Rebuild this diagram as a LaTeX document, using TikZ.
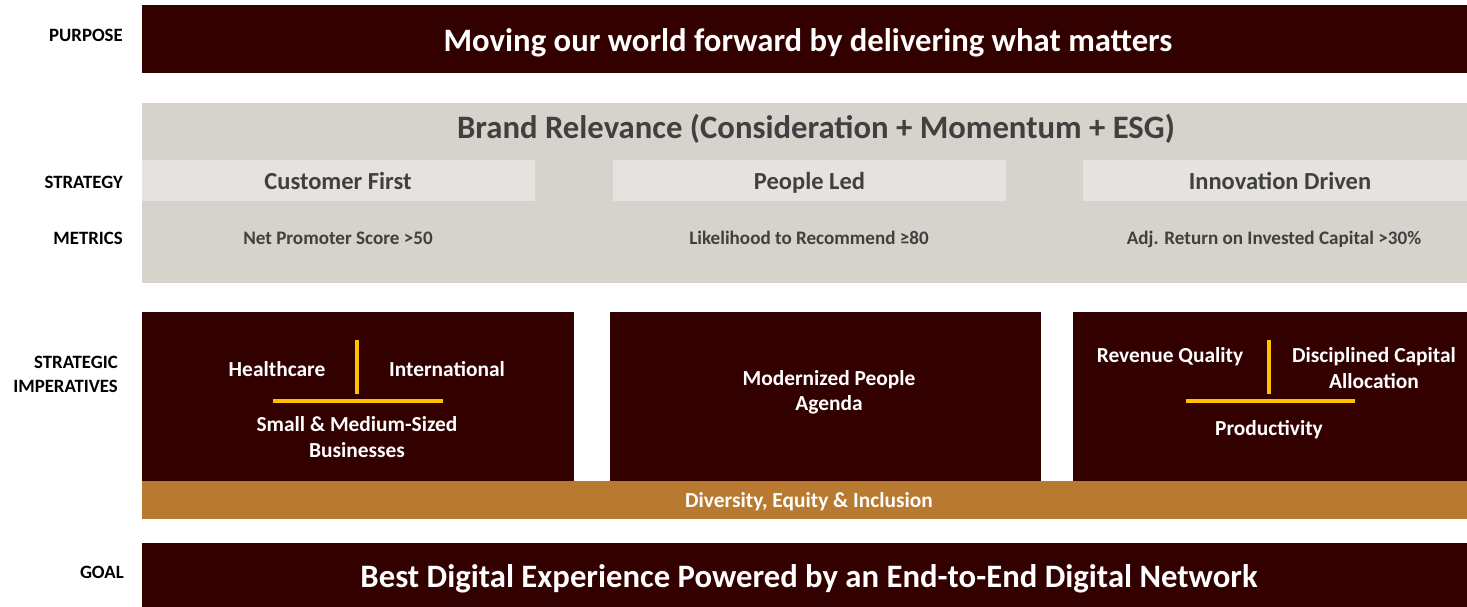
\documentclass[tikz,border=0pt]{standalone}
\usepackage{fontspec}
\setmainfont{Carlito}
\definecolor{maroon}{HTML}{330000}
\definecolor{graybg}{HTML}{D6D2CC}
\definecolor{graystrip}{HTML}{E5E2DF}
\definecolor{graytxt}{HTML}{404040}
\definecolor{ochre}{HTML}{B87A30}
\definecolor{gold}{HTML}{FFC000}
\tikzset{
  bar/.style={fill=#1, draw=none, anchor=north west, inner sep=0pt, outer sep=0pt},
  lbl/.style={font=\fontsize{18.8}{24}\selectfont\bfseries, text=black, anchor=base east, align=right, inner sep=0pt},
  big/.style={font=\fontsize{32.7}{36}\selectfont\bfseries, text=white, anchor=base, inner sep=0pt},
  strat/.style={font=\fontsize{24.5}{28}\selectfont\bfseries, text=graytxt, anchor=base, inner sep=0pt},
  metric/.style={font=\fontsize{19.1}{22}\selectfont\bfseries, text=graytxt, anchor=base, inner sep=0pt},
  imp/.style={font=\fontsize{21.4}{25.5}\selectfont\bfseries, text=white, align=center, anchor=base, inner sep=0pt},
  goldline/.style={draw=gold, line width=4.5pt},
}
\begin{document}
\begin{tikzpicture}[x=1pt,y=-1pt]
\useasboundingbox (0,0) rectangle (1467,606);
% purpose
\node[bar=maroon, minimum width=1325, minimum height=68] (purpose) at (142,5) {};
\node[big] (purposetxt) at (808,51.5) {Moving our world forward by delivering what matters};
\node[lbl] (lpurpose) at (123,41) {PURPOSE};
% brand relevance block
\node[bar=graybg, minimum width=1325, minimum height=180] (brand) at (142,103) {};
\node[big, text=graytxt] (brandtxt) at (816,138.5) {Brand Relevance (Consideration + Momentum + ESG)};
% strategy strips
\node[bar=graystrip, minimum width=393, minimum height=41] (s1) at (142,160) {};
\node[bar=graystrip, minimum width=393, minimum height=41] (s2) at (613,160) {};
\node[bar=graystrip, minimum width=384, minimum height=41] (s3) at (1083,160) {};
\node[strat] (s1txt) at (338,189) {Customer First};
\node[strat] (s2txt) at (809.5,189) {People Led};
\node[strat] (s3txt) at (1280,189) {Innovation Driven};
\node[lbl] (lstrategy) at (123,188) {STRATEGY};
% metrics
\node[metric] (m1) at (338,244) {Net Promoter Score >50};
\node[metric] (m2) at (809,244) {Likelihood to Recommend ≥80};
\node[metric] (m3) at (1274,244) {Adj. Return on Invested Capital >30\%};
\node[lbl] (lmetrics) at (123,244) {METRICS};
% strategic imperatives
\node[bar=maroon, minimum width=432, minimum height=169] (b1) at (142,312) {};
\node[bar=maroon, minimum width=431, minimum height=169] (b2) at (610,312) {};
\node[bar=maroon, minimum width=394, minimum height=169] (b3) at (1073,312) {};
\node[lbl] (limp) at (118,392) {STRATEGIC\\IMPERATIVES};
% box 1
\coordinate (v1t) at (357,340); \coordinate (v1b) at (357,394);
\coordinate (h1l) at (273,401); \coordinate (h1r) at (443,401);
\draw[goldline] (v1t) -- (v1b);
\draw[goldline] (h1l) -- (h1r);
\node[imp] (hc) at (277,376) {Healthcare};
\node[imp] (intl) at (447,376) {International};
\node[imp] (smb) at (357,457) {Small \& Medium-Sized\\Businesses};
% box 2
\node[imp] (mpa) at (829,410.5) {Modernized People\\Agenda};
% box 3
\coordinate (v3t) at (1269,340); \coordinate (v3b) at (1269,394);
\coordinate (h3l) at (1186,401); \coordinate (h3r) at (1355,401);
\draw[goldline] (v3t) -- (v3b);
\draw[goldline] (h3l) -- (h3r);
\node[imp] (rq) at (1170,362) {Revenue Quality};
\node[imp] (dca) at (1374,388) {Disciplined Capital\\Allocation};
\node[imp] (prod) at (1269,435) {Productivity};
% DEI bar
\node[bar=ochre, minimum width=1325, minimum height=38] (dei) at (142,481) {};
\node[imp] (deitxt) at (809,507.5) {Diversity, Equity \& Inclusion};
% goal
\node[bar=maroon, minimum width=1325, minimum height=64] (goal) at (142,543) {};
\node[big] (goaltxt) at (809,587.5) {Best Digital Experience Powered by an End-to-End Digital Network};
\node[lbl] (lgoal) at (124,578) {GOAL};
\end{tikzpicture}
\end{document}
